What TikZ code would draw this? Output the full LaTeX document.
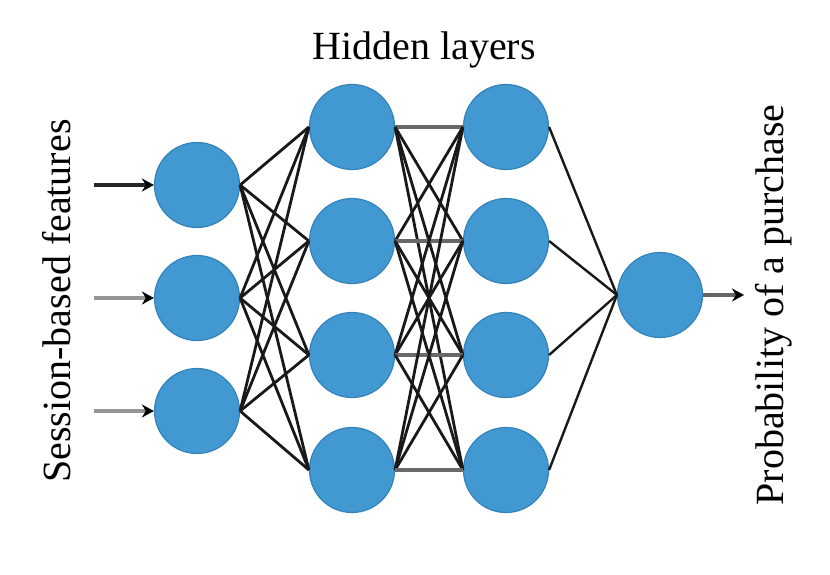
\documentclass[tikz,border=0pt]{standalone}
\usepackage{fontspec}
\setmainfont{Liberation Serif}
\usetikzlibrary{arrows.meta}
\definecolor{nodefill}{RGB}{66,153,209}
\definecolor{nodeedge}{RGB}{52,130,186}
\definecolor{grayline}{RGB}{150,150,150}
\begin{document}
\begin{tikzpicture}[x=1pt,y=-1pt,
  neuron/.style={circle,fill=nodefill,draw=nodeedge,line width=1.2pt,minimum size=85pt,inner sep=0pt},
  conn/.style={draw=black!90,line width=2.8pt},
  hconn/.style={draw=grayline!70!black,line width=4.5pt},
  inarrow/.style={draw=grayline,line width=4.5pt,-{Stealth[length=12pt,width=13pt,black]}},
  lbl/.style={font=\fontsize{40}{48}\selectfont}]
\useasboundingbox (0,0) rectangle (830,575);
% input layer
\node[neuron] (i1) at (197,185) {};
\node[neuron] (i2) at (197,298) {};
\node[neuron] (i3) at (197,411) {};
% hidden layer 1
\node[neuron] (a1) at (352,127) {};
\node[neuron] (a2) at (352,241) {};
\node[neuron] (a3) at (352,355) {};
\node[neuron] (a4) at (352,470) {};
% hidden layer 2
\node[neuron] (b1) at (506,127) {};
\node[neuron] (b2) at (506,241) {};
\node[neuron] (b3) at (506,355) {};
\node[neuron] (b4) at (506,470) {};
% output
\node[neuron] (o) at (660,295) {};
% arrow free ends
\coordinate (s1) at (94,185);
\coordinate (s2) at (94,298);
\coordinate (s3) at (94,411);
\coordinate (e) at (744,295);
\draw[inarrow,draw=black!85,line width=3.5pt] (s1) -- (i1.west);
\draw[inarrow] (s2) -- (i2.west);
\draw[inarrow] (s3) -- (i3.west);
\draw[inarrow,draw=black!60,line width=3.5pt] (o.east) -- (e);
% connections
\foreach \i in {1,2,3}{\foreach \j in {1,2,3,4}{\draw[conn] (i\i.east) -- (a\j.west);}}
\foreach \i in {1,2,3,4}{\foreach \j in {1,2,3,4}{
  \ifnum\i=\j \draw[hconn] (a\i.east) -- (b\j.west);\else \draw[conn] (a\i.east) -- (b\j.west);\fi}}
\foreach \i in {1,2,3,4}{\draw[conn,line width=2.4pt] (b\i.east) -- (o.west);}
% labels
\node[lbl,anchor=base] (hl) at (424,60) {Hidden layers};
\node[lbl,anchor=base,rotate=90] (sf) at (70,301) {Session-based features};
\node[lbl,anchor=base,rotate=90] (pp) at (783,305) {Probability of a purchase};
\end{tikzpicture}
\end{document}
